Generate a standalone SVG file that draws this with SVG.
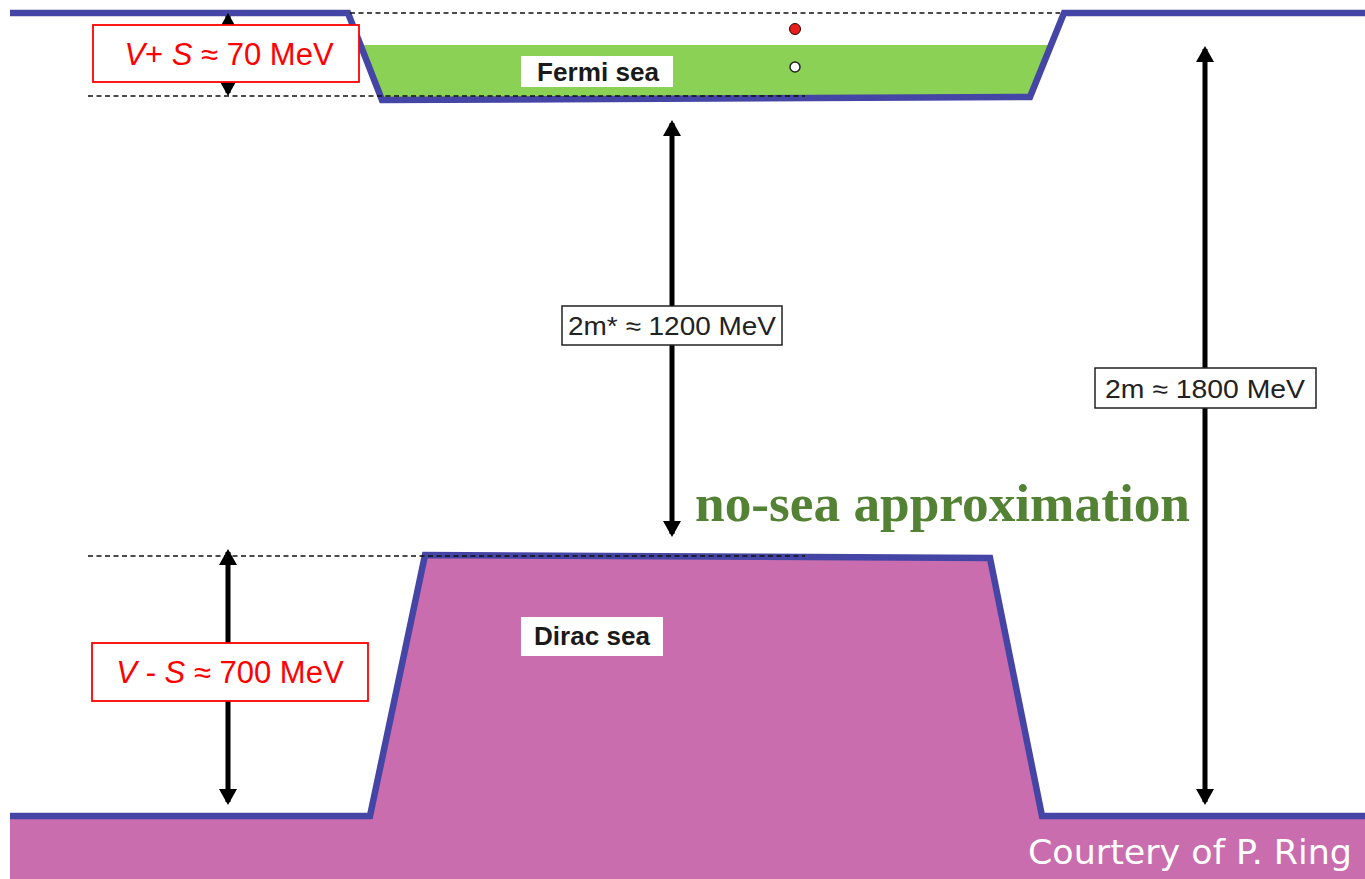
<svg xmlns="http://www.w3.org/2000/svg" width="1365" height="879" viewBox="0 0 1365 879">
<defs>
<style>
.wall{fill:none;stroke:#4545a6;stroke-width:6.5;stroke-linejoin:miter}
.dash{fill:none;stroke:#111;stroke-width:1.6;stroke-dasharray:5,3.5}
.shaft{stroke:#000;stroke-width:5;fill:none}
.lbl{fill:#fff;stroke:#222;stroke-width:1.5}
.rlbl{fill:#fff;stroke:#f00;stroke-width:1.8}
.btxt{font-family:"Liberation Sans",Arial,sans-serif;font-size:26px;fill:#222;text-anchor:middle}
.rtxt{font-family:"Liberation Sans",Arial,sans-serif;font-size:31px;fill:#f00;text-anchor:middle}
.sea{font-family:"Liberation Sans",Arial,sans-serif;font-size:25px;font-weight:bold;fill:#1a1a1a;text-anchor:middle}
</style>
<marker id="ah" viewBox="0 0 16 18" refX="13" refY="9" markerWidth="16" markerHeight="18" markerUnits="userSpaceOnUse" orient="auto-start-reverse">
<path d="M0,0 L16,9 L0,18 z" fill="#000"/>
</marker>
</defs>
<rect width="1365" height="879" fill="#fff"/>
<g id="dirac-fill">
<polygon points="372,816 425,555 990,558 1042,816" fill="#c96daf"/>
<rect x="10" y="816" width="1355" height="63" fill="#c96daf"/>
</g>
<g id="fermi-fill">
<polygon points="361,45 1052,45 1030,97 382,99" fill="#8bd155"/>
</g>
<g id="walls">
<path class="wall" d="M10,13 L348,13 L382,100 L1030,97 L1064,13 L1365,13"/>
<path class="wall" d="M10,816 L370,816 L425,555 L990,558 L1042,816 L1365,816"/>
</g>
<g id="dashes">
<line class="dash" x1="350" y1="13" x2="1060" y2="13"/>
<line class="dash" x1="88" y1="96" x2="805" y2="96"/>
<line class="dash" x1="88" y1="556" x2="805" y2="556"/>
</g>
<g id="connectors">
<line class="shaft" x1="228" y1="16" x2="228" y2="93" marker-start="url(#ah)" marker-end="url(#ah)"/>
<line class="shaft" x1="672" y1="123" x2="672" y2="534" marker-start="url(#ah)" marker-end="url(#ah)"/>
<line class="shaft" x1="1205" y1="49" x2="1205" y2="802" marker-start="url(#ah)" marker-end="url(#ah)"/>
<line class="shaft" x1="228" y1="552" x2="228" y2="802" marker-start="url(#ah)" marker-end="url(#ah)"/>
</g>
<g id="particles">
<circle cx="795" cy="29" r="5.5" fill="#e8201c" stroke="#300" stroke-width="1"/>
<circle cx="795" cy="67" r="5" fill="#fff" stroke="#222" stroke-width="1.5"/>
</g>
<g id="fermi-sea">
<rect x="521" y="56" width="152" height="31" fill="#fff"/>
<text class="sea" x="598" y="81" textLength="122" lengthAdjust="spacingAndGlyphs">Fermi sea</text>
</g>
<g id="dirac-sea">
<rect x="521" y="617" width="142" height="39" fill="#fff"/>
<text class="sea" x="592" y="645" textLength="116" lengthAdjust="spacingAndGlyphs">Dirac sea</text>
</g>
<g id="vps">
<rect class="rlbl" x="93" y="25" width="266" height="57"/>
<text class="rtxt" x="229" y="65"><tspan font-style="italic">V</tspan>+ <tspan font-style="italic">S</tspan> ≈ 70 MeV</text>
</g>
<g id="vms">
<rect class="rlbl" x="92" y="643" width="276" height="58"/>
<text class="rtxt" x="230" y="683"><tspan font-style="italic">V</tspan> - <tspan font-style="italic">S</tspan> ≈ 700 MeV</text>
</g>
<g id="mstar">
<rect class="lbl" x="562" y="306" width="220" height="39"/>
<text class="btxt" x="672" y="335" textLength="208" lengthAdjust="spacingAndGlyphs">2m* ≈ 1200 MeV</text>
</g>
<g id="m">
<rect class="lbl" x="1095" y="368" width="221" height="40"/>
<text class="btxt" x="1205" y="398" textLength="200" lengthAdjust="spacingAndGlyphs">2m ≈ 1800 MeV</text>
</g>
<g id="nosea">
<text x="695" y="521" font-family="'Liberation Serif','Times New Roman',serif" font-weight="bold" font-size="53" fill="#548235" textLength="495" lengthAdjust="spacingAndGlyphs">no-sea approximation</text>
</g>
<g id="credit">
<text x="1028" y="864" font-family="'Comic Sans MS','DejaVu Sans',sans-serif" font-size="33" fill="#fff" textLength="324" lengthAdjust="spacingAndGlyphs">Courtery of P. Ring</text>
</g>
</svg>
